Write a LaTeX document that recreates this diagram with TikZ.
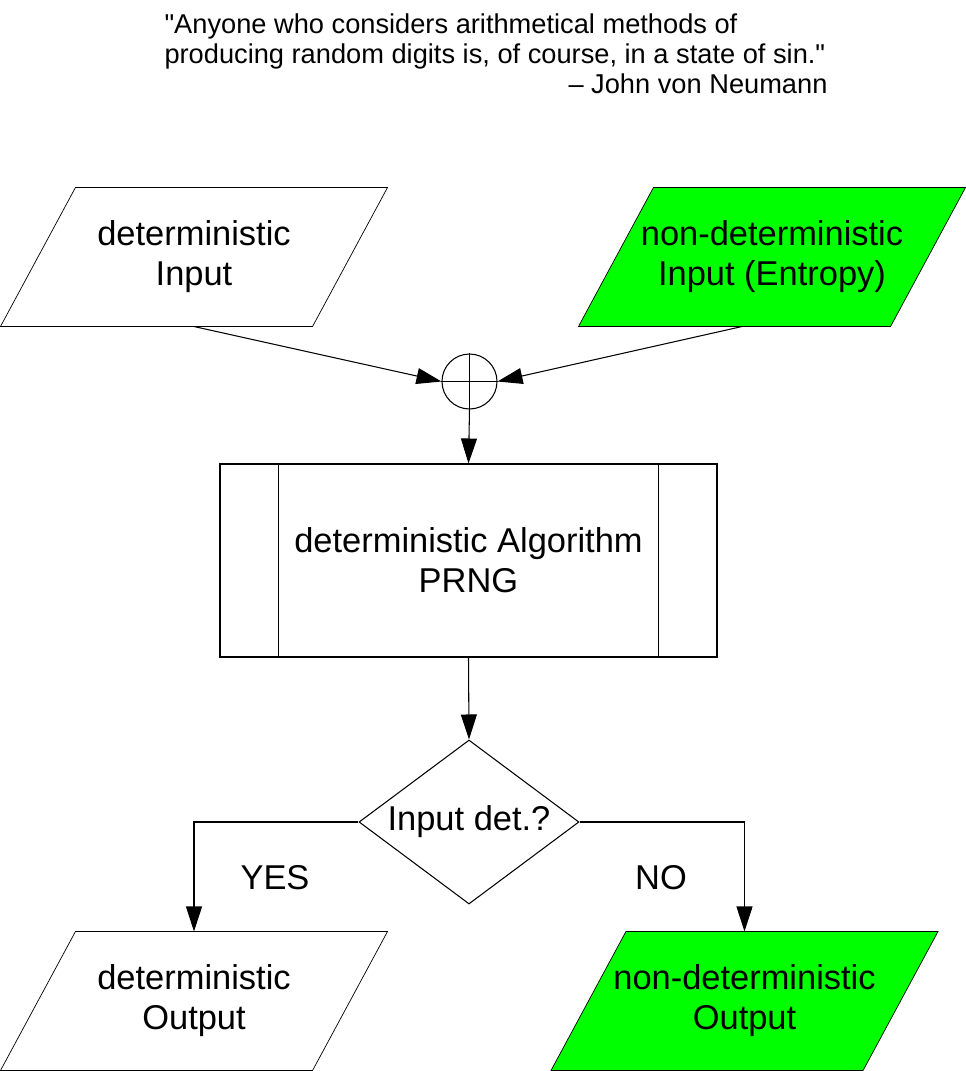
\documentclass[tikz,border=0pt]{standalone}
\usepackage{fontspec}
\setmainfont{Liberation Sans}[Ligatures=TeXOff]
\usetikzlibrary{shapes.geometric,arrows.meta,positioning,calc,backgrounds}
\definecolor{entropyGreen}{RGB}{0,255,0}
\newcommand{\boxfont}{\fontsize{19.6pt}{22.8pt}\selectfont}
\newcommand{\quotefont}{\fontsize{15.5pt}{17.6pt}\selectfont}
% slanted outline round a named io node
\newcommand{\ioshape}[2]{\filldraw[fill=#2] ([xshift=-0.75cm]#1.south west) -- ([xshift=-0.75cm]#1.south east)
    -- ([xshift=0.75cm]#1.north east) -- ([xshift=0.75cm]#1.north west) -- cycle;}

\begin{document}
\begin{tikzpicture}[line width=0.6pt, >={Triangle[length=0.5cm,width=0.32cm]},
        every node/.style={font=\boxfont, align=center},
        io/.style={rectangle, inner sep=0pt, minimum width=6.22cm, minimum height=2.76cm}]
        \useasboundingbox (0,0) rectangle (19.32,-21.42);
        % quotation
        \node[font=\quotefont, align=left, inner sep=0pt, anchor=base west] (quote) at (3.28,-1.28)
            {"Anyone who considers arithmetical methods of\\producing random digits is, of course, in a state of sin."};
        \node[font=\quotefont, inner sep=0pt, anchor=base east] (author) at (16.56,-1.88) {– John von Neumann};
        % inputs
        \node[io] (detin) at (3.88,-5.14) {deterministic\\Input};
        \node[io] (ndin) at (15.44,-5.14) {non-deterministic\\Input (Entropy)};
        \node[circle, draw, minimum size=1.1cm, inner sep=0pt] (xor) at (9.39,-7.63) {};
        \draw (xor.north) -- (xor.south) (xor.west) -- (xor.east);
        % algorithm
        \node[draw, minimum width=9.94cm, minimum height=3.86cm] (prng) at (9.37,-11.21)
            {deterministic Algorithm\\PRNG};
        \draw ([xshift=1.18cm]prng.north west) -- ([xshift=1.18cm]prng.south west)
            ([xshift=-1.18cm]prng.north east) -- ([xshift=-1.18cm]prng.south east);
        \node[diamond, aspect=1.34, draw, minimum width=4.4cm, minimum height=3.28cm, inner sep=0pt] (test) at (9.38,-16.44)
            {Input det.?};
        % outputs
        \node[io] (detout) at (3.88,-20.02) {deterministic\\Output};
        \node[io] (ndout) at (14.89,-20.02) {non-deterministic\\Output};
        \node (yes) at (5.5,-17.56) {YES};
        \node (no) at (13.22,-17.56) {NO};
        \begin{scope}[on background layer]
            \ioshape{detin}{white}
            \ioshape{ndin}{entropyGreen}
            \ioshape{detout}{white}
            \ioshape{ndout}{entropyGreen}
        \end{scope}
        % connectors
        \draw[->] (detin.south) -- (xor.west);
        \draw[->] ([xshift=-0.6cm]ndin.south) -- (xor.east);
        \draw[->] (xor.south) -- (prng.north);
        \draw[->] (prng.south) -- (test.north);
        \draw[->] (test.west) -| (detout.north);
        \draw[->] (test.east) -| (ndout.north);
    \end{tikzpicture}
\end{document}
